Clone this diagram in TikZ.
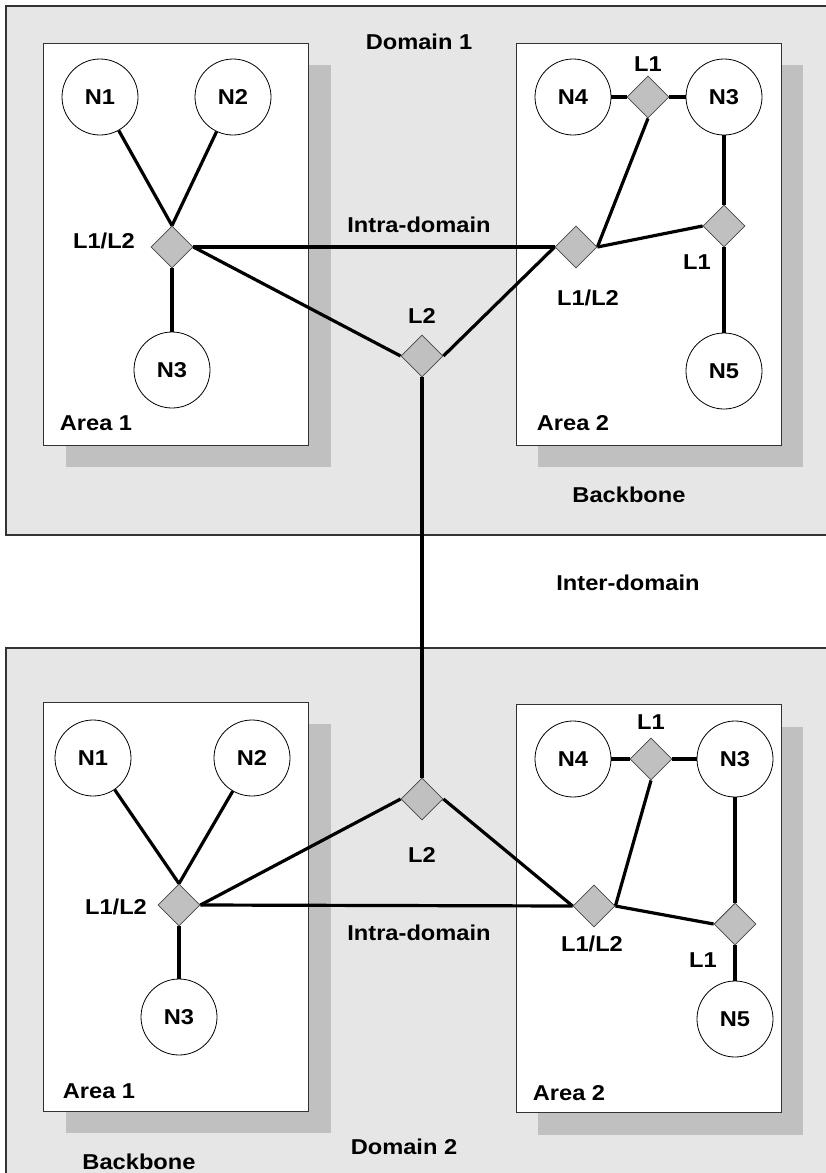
\documentclass[tikz,border=0pt]{standalone}
\usepackage{fontspec}
\setmainfont[FakeStretch=1.1]{Liberation Sans}
\usetikzlibrary{shapes.geometric}
\pgfdeclarelayer{boxes}
\pgfdeclarelayer{links}
\pgfsetlayers{boxes,links,main}
\definecolor{dombg}{HTML}{E6E6E6}
\definecolor{shadowc}{HTML}{C0C0C0}
\definecolor{routerc}{HTML}{C0C0C0}
\definecolor{edgec}{HTML}{333333}
\tikzset{
  domainbox/.style={fill=dombg,draw=edgec,line width=1.5pt},
  areabox/.style={fill=white,draw=edgec,line width=1pt},
  shadowbox/.style={fill=shadowc},
  netnode/.style={circle,draw=black,line width=0.8pt,fill=white,minimum size=76pt,inner sep=0pt},
  router/.style={diamond,draw=gray!55!black,line width=0.8pt,fill=routerc,minimum size=42pt,inner sep=0pt},
  link/.style={line width=3.2pt,black},
  lbl/.style={inner sep=0pt}
}
\begin{document}
\begin{tikzpicture}[x=1pt,y=-1pt,font=\fontsize{21.5}{25}\selectfont\bfseries]
\useasboundingbox (0,0) rectangle (826,1173);
\begin{pgfonlayer}{boxes}
\fill[white] (0,0) rectangle (826,1173);
% ===== Domain 1 =====
\draw[domainbox] (6,6) rectangle (840,535);
\fill[shadowbox] (66,65) rectangle (331,467);
\draw[areabox] (43,43) rectangle (308,445);
\fill[shadowbox] (538,65) rectangle (803,467);
\draw[areabox] (516,43) rectangle (781,445);
% ===== Domain 2 =====
\draw[domainbox] (6,648) rectangle (840,1190);
\fill[shadowbox] (66,724) rectangle (331,1133);
\draw[areabox] (43,702) rectangle (308,1111);
\fill[shadowbox] (538,727) rectangle (803,1135);
\draw[areabox] (516,704) rectangle (781,1112);
\end{pgfonlayer}

% ---- top nodes ----
\node[netnode] (tn1) at (100,97) {N1};
\node[netnode] (tn2) at (233,97) {N2};
\node[netnode] (tn3) at (172,370) {N3};
\node[router] (tra) at (172,247) {};
\node[netnode] (tn4) at (573,97) {N4};
\node[netnode] (tn3b) at (724,97) {N3};
\node[netnode] (tn5) at (724,371) {N5};
\node[router] (tla) at (648,97) {};
\node[router] (tlb) at (724,226) {};
\node[router] (trb) at (576,247) {};
\node[router] (tl2) at (422,356) {};

% ---- bottom nodes ----
\node[netnode] (bn1) at (93,758) {N1};
\node[netnode] (bn2) at (252,758) {N2};
\node[netnode] (bn3) at (179,1017) {N3};
\node[router] (bra) at (179,905) {};
\node[netnode] (bn4) at (573,759) {N4};
\node[netnode] (bn3b) at (735,759) {N3};
\node[netnode] (bn5) at (735,1019) {N5};
\node[router] (bla) at (651,759) {};
\node[router] (blb) at (735,924) {};
\node[router] (brb) at (594,906) {};
\node[router] (bl2) at (422,799) {};

\begin{pgfonlayer}{links}
% ---- top links ----
\draw[link] (tn1) -- (tra.north);
\draw[link] (tn2) -- (tra.north);
\draw[link] (tra.south) -- (tn3);
\draw[link] (tra.east) -- (trb.west);
\draw[link] (tra.east) -- (tl2.west);
\draw[link] (tl2.east) -- (trb.west);
\draw[link] (tn4) -- (tla.west);
\draw[link] (tla.east) -- (tn3b);
\draw[link] (tla.south) -- (trb.east);
\draw[link] (trb.east) -- (tlb.west);
\draw[link] (tn3b) -- (tlb.north);
\draw[link] (tlb.south) -- (tn5);
% inter-domain
\draw[link] (tl2.south) -- (bl2.north);
% ---- bottom links ----
\draw[link] (bn1) -- (bra.north);
\draw[link] (bn2) -- (bra.north);
\draw[link] (bra.south) -- (bn3);
\draw[link] (bra.east) -- (brb.west);
\draw[link] (bra.east) -- (bl2.west);
\draw[link] (bl2.east) -- (brb.west);
\draw[link] (bn4) -- (bla.west);
\draw[link] (bla.east) -- (bn3b);
\draw[link] (bla.south) -- (brb.east);
\draw[link] (brb.east) -- (blb.west);
\draw[link] (bn3b) -- (blb.north);
\draw[link] (blb.south) -- (bn5);
\end{pgfonlayer}

% ---- top labels ----
\node[lbl] (tdom) at (419,42) {Domain 1};
\node[lbl] (tintra) at (419,225) {Intra-domain};
\node[lbl] (tlra) at (104,241) {L1/L2};
\node[lbl] (tll2) at (422,316) {L2};
\node[lbl] (tlrb) at (588,298) {L1/L2};
\node[lbl] (tlla) at (648,64) {L1};
\node[lbl] (tllb) at (697,262) {L1};
\node[lbl] (tar1) at (96,423) {Area 1};
\node[lbl] (tar2) at (573,423) {Area 2};
\node[lbl] (tbb) at (629,495) {Backbone};
\node[lbl] (inter) at (628,583) {Inter-domain};
% ---- bottom labels ----
\node[lbl] (blra) at (116,907) {L1/L2};
\node[lbl] (bll2) at (422,855) {L2};
\node[lbl] (blrb) at (592,944) {L1/L2};
\node[lbl] (blla) at (651,722) {L1};
\node[lbl] (bllb) at (703,960) {L1};
\node[lbl] (bintra) at (419,933) {Intra-domain};
\node[lbl] (bar1) at (99,1091) {Area 1};
\node[lbl] (bar2) at (569,1093) {Area 2};
\node[lbl] (bdom) at (404,1147) {Domain 2};
\node[lbl] (bbb) at (139,1162) {Backbone};
\end{tikzpicture}
\end{document}
